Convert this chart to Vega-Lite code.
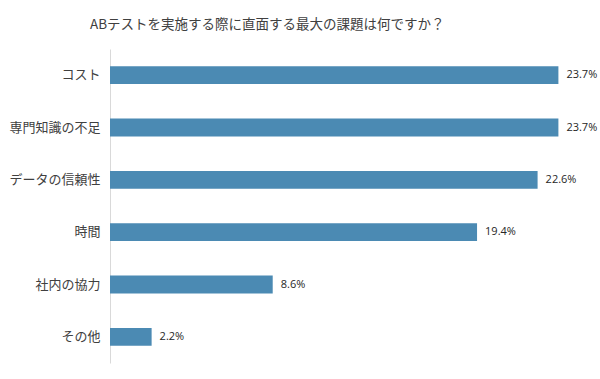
{
  "$schema": "https://vega.github.io/schema/vega-lite/v6.json",
  "autosize": "none",
  "width": 473,
  "height": 314,
  "padding": {"left": 110, "top": 49, "right": 17, "bottom": 16},
  "background": "white",
  "title": {
    "text": "ABテストを実施する際に直面する最大の課題は何ですか？",
    "font": "Noto Sans CJK JP",
    "fontSize": 13.5,
    "fontWeight": "normal",
    "color": "#404040",
    "anchor": "start",
    "frame": "group",
    "dx": -20,
    "offset": 18
  },
  "config": {
    "view": {"stroke": null},
    "font": "Noto Sans CJK JP"
  },
  "data": {
    "values": [
      {"item": "コスト", "value": 0.237},
      {"item": "専門知識の不足", "value": 0.237},
      {"item": "データの信頼性", "value": 0.226},
      {"item": "時間", "value": 0.194},
      {"item": "社内の協力", "value": 0.086},
      {"item": "その他", "value": 0.022}
    ]
  },
  "encoding": {
    "y": {
      "field": "item",
      "type": "nominal",
      "sort": null,
      "scale": {"paddingInner": 0.66, "paddingOuter": 0.33},
      "axis": {
        "title": null,
        "ticks": false,
        "domainColor": "#d9d9d9",
        "domainWidth": 1,
        "labelFont": "Noto Sans CJK JP",
        "labelFontSize": 13,
        "labelColor": "#404040",
        "labelPadding": 10
      }
    },
    "x": {
      "field": "value",
      "type": "quantitative",
      "scale": {"domain": [0, 0.25], "nice": false},
      "axis": null
    }
  },
  "layer": [
    {"mark": {"type": "bar", "color": "#4b8ab3"}},
    {
      "mark": {"type": "text", "align": "left", "dx": 8, "font": "Open Sans", "fontSize": 11, "color": "#262626"},
      "encoding": {"text": {"field": "value", "type": "quantitative", "format": ".1%"}}
    }
  ]
}
